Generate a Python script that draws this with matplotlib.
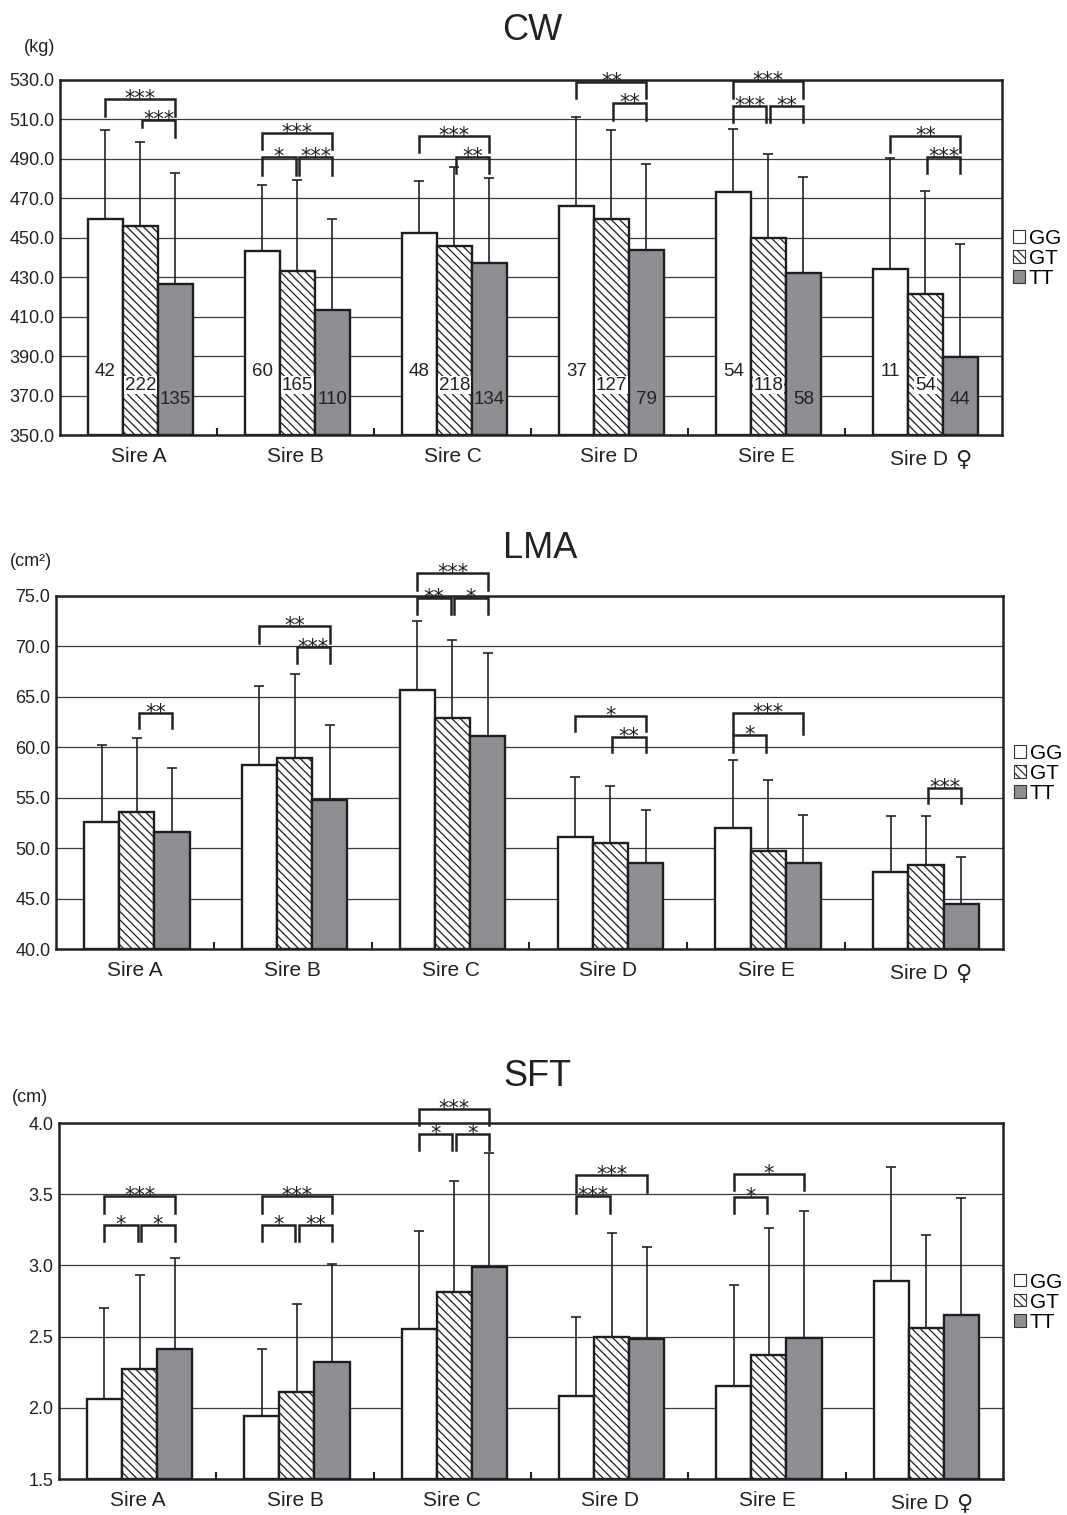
import matplotlib
matplotlib.use('Agg')
import matplotlib.pyplot as plt
from matplotlib.patches import Patch
from matplotlib.transforms import blended_transform_factory

plt.rcParams['font.family'] = ['Liberation Sans', 'DejaVu Sans']
plt.rcParams['hatch.linewidth'] = 0.9

sires = ['Sire A', 'Sire B', 'Sire C', 'Sire D', 'Sire E', 'Sire D ♀']
genotypes = ['GG', 'GT', 'TT']

# ---- CW (kg) ----
cw_gg = [459.5, 443.3, 452.4, 466.1, 473.2, 434.2]
cw_gt = [456.0, 433.2, 446.0, 459.5, 449.8, 421.5]
cw_tt = [426.6, 413.4, 437.4, 443.8, 432.0, 389.5]
cw_gg_sd = [45.1, 33.5, 26.4, 45.1, 31.9, 56.3]
cw_gt_sd = [42.5, 46.2, 40.0, 45.1, 42.6, 52.3]
cw_tt_sd = [56.2, 46.0, 42.9, 43.6, 48.8, 57.4]
n_gg = [42, 60, 48, 37, 54, 11]
n_gt = [222, 165, 218, 127, 118, 54]
n_tt = [135, 110, 134, 79, 58, 44]

# ---- LMA (cm2) ----
lma_gg = [52.6, 58.2, 65.7, 51.1, 52.0, 47.6]
lma_gt = [53.6, 58.9, 62.9, 50.5, 49.7, 48.3]
lma_tt = [51.6, 54.8, 61.1, 48.5, 48.5, 44.5]
lma_gg_sd = [7.6, 7.9, 6.8, 6.0, 6.75, 5.6]
lma_gt_sd = [7.3, 8.4, 7.7, 5.7, 7.1, 4.9]
lma_tt_sd = [6.3, 7.4, 8.2, 5.3, 4.8, 4.6]

# ---- SFT (cm) ----
sft_gg = [2.06, 1.94, 2.55, 2.08, 2.155, 2.89]
sft_gt = [2.27, 2.11, 2.81, 2.50, 2.37, 2.56]
sft_tt = [2.41, 2.32, 2.99, 2.48, 2.49, 2.65]
sft_gg_sd = [0.64, 0.47, 0.69, 0.56, 0.705, 0.80]
sft_gt_sd = [0.66, 0.62, 0.78, 0.73, 0.89, 0.65]
sft_tt_sd = [0.64, 0.69, 0.80, 0.65, 0.89, 0.825]

# significance brackets: (sire index, bar i, bar j, label, top, leg end i, leg end j)
cw_sig = [
    (0, 0, 2, '***', 520.4, 511.7, 512.0), (0, 1, 2, '***', 509.7, 506.0, 501.0),
    (1, 0, 2, '***', 503.0, 495.0, 495.0), (1, 0, 1, '*', 491.0, 482.0, 482.0),
    (1, 1, 2, '***', 491.0, 482.0, 482.0),
    (2, 0, 2, '***', 501.6, 493.5, 493.5), (2, 1, 2, '**', 491.0, 483.0, 483.0),
    (3, 0, 2, '**', 529.0, 521.0, 521.0), (3, 1, 2, '**', 518.3, 509.7, 509.7),
    (4, 0, 2, '***', 529.5, 521.0, 521.0), (4, 0, 1, '***', 516.8, 508.7, 508.7),
    (4, 1, 2, '**', 516.8, 508.7, 508.7),
    (5, 0, 2, '**', 501.6, 493.5, 493.5), (5, 1, 2, '***', 491.0, 483.0, 483.0),
]
lma_sig = [
    (0, 1, 2, '**', 63.4, 61.9, 61.9),
    (1, 0, 2, '**', 72.0, 70.3, 70.3), (1, 1, 2, '***', 69.9, 68.4, 68.4),
    (2, 0, 2, '***', 77.3, 75.6, 75.6), (2, 0, 1, '**', 74.8, 73.2, 73.2),
    (2, 1, 2, '*', 74.8, 73.2, 73.2),
    (3, 0, 2, '*', 63.1, 61.6, 61.6), (3, 1, 2, '**', 61.0, 59.5, 59.5),
    (4, 0, 2, '***', 63.4, 61.3, 61.3), (4, 0, 1, '*', 61.2, 59.5, 59.5),
    (5, 1, 2, '***', 56.0, 54.5, 54.5),
]
sft_sig = [
    (0, 0, 2, '***', 3.487, 3.37, 3.37), (0, 0, 1, '*', 3.284, 3.17, 3.17),
    (0, 1, 2, '*', 3.284, 3.17, 3.17),
    (1, 0, 2, '***', 3.487, 3.37, 3.37), (1, 0, 1, '*', 3.284, 3.17, 3.17),
    (1, 1, 2, '**', 3.284, 3.17, 3.17),
    (2, 0, 2, '***', 4.098, 3.986, 3.986), (2, 0, 1, '*', 3.923, 3.81, 3.81),
    (2, 1, 2, '*', 3.923, 3.81, 3.81),
    (3, 0, 2, '***', 3.635, 3.517, 3.517), (3, 0, 1, '***', 3.487, 3.37, 3.37),
    (4, 0, 2, '*', 3.64, 3.53, 3.53), (4, 0, 1, '*', 3.48, 3.37, 3.37),
]

W = 0.223
GRAY = '#8e8f93'
EDGE = '#1e1e1e'
TXT = '#222222'

fig = plt.figure(figsize=(10.67, 15.15), dpi=100)


def panel(rect, means, sds, ylim, yticks, sigs, counts=None, count_y=None):
    ax = fig.add_axes(rect)
    ax.set_xlim(-0.5, 5.5)
    ax.set_ylim(*ylim)
    ax.set_axisbelow(True)
    ax.yaxis.grid(True, color='#3a3a3a', lw=0.9)
    styles = [dict(facecolor='white'), dict(facecolor='white', hatch='\\\\\\\\'),
              dict(facecolor=GRAY)]
    xs_all = []
    for k in range(3):
        xs = [g + (k - 1) * W + 0.012 for g in range(6)]
        xs_all.append(xs)
        ax.bar(xs, [m - ylim[0] for m in means[k]], bottom=ylim[0], width=W,
               edgecolor=EDGE, linewidth=1.7, zorder=2, **styles[k])
        ax.errorbar(xs, means[k], yerr=[[0] * 6, sds[k]], fmt='none',
                    ecolor=TXT, elinewidth=1.2, capsize=3.8, capthick=1.2,
                    zorder=1.5)
    if counts is not None:
        for k in range(3):
            for g in range(6):
                kw = {}
                if k == 1:
                    kw['bbox'] = dict(facecolor='white', edgecolor='none', pad=0.5)
                ax.text(xs_all[k][g], count_y[k], str(counts[k][g]), ha='center',
                        va='center', fontsize=13.5, color=TXT, zorder=4, **kw)
    for (g, i, j, lab, top, li, lj) in sigs:
        x1 = xs_all[i][g]
        x2 = xs_all[j][g]
        if i == 1:
            x1 += 0.012
        if j == 1:
            x2 -= 0.012
        ax.plot([x1, x1, x2, x2], [li, top, top, lj], color=TXT, lw=1.8,
                clip_on=False, zorder=5, solid_joinstyle='miter')
        ax.annotate(lab, xy=((x1 + x2) / 2, top), xytext=(0, -4.4),
                    textcoords='offset points', ha='center', va='baseline',
                    fontsize=15, family='DejaVu Sans', color=TXT,
                    annotation_clip=False, zorder=6)
    ax.set_yticks(yticks)
    ax.set_yticklabels(['%.1f' % t for t in yticks], fontsize=13, color=TXT)
    ax.tick_params(axis='y', length=0, pad=4)
    ax.set_xticks(range(6))
    labels = list(sires[:5]) + ['']
    ax.set_xticklabels(labels, fontsize=15, color=TXT)
    ax.tick_params(axis='x', which='major', length=0, pad=9)
    # last label: "Sire D" + larger female sign
    base, sign = sires[5].split(' ♀')[0], '♀'
    tr = blended_transform_factory(ax.transData, ax.transAxes)
    ax.annotate(base, xy=(5, 0), xycoords=tr, xytext=(17.5, -10.5),
                textcoords='offset points', ha='right', va='top', fontsize=15,
                color=TXT)
    ax.annotate(sign, xy=(5, 0), xycoords=tr, xytext=(22.5, -10.0),
                textcoords='offset points', ha='left', va='top', fontsize=16,
                color=TXT, family='DejaVu Sans')
    ax.set_xticks([0.5, 1.5, 2.5, 3.5, 4.5], minor=True)
    ax.tick_params(axis='x', which='minor', direction='in', length=5, width=1.5,
                   color=TXT)
    for s in ax.spines.values():
        s.set_linewidth(1.8)
        s.set_color(TXT)
    handles = [Patch(facecolor='white', edgecolor='#333333', lw=0.8),
               Patch(facecolor='white', edgecolor='#333333', lw=0.8, hatch='\\\\\\\\'),
               Patch(facecolor=GRAY, edgecolor='#333333', lw=0.8)]
    ax.legend(handles, genotypes, loc='center left', bbox_to_anchor=(1.012, 0.497),
              frameon=False, fontsize=15, handlelength=0.55, handleheight=0.55,
              handletextpad=0.2, labelspacing=0.05, borderpad=0, borderaxespad=0)
    return ax


FW, FH = 1067.0, 1515.0


def rect(l, t, r, b):
    return [l / FW, 1 - b / FH, (r - l) / FW, (b - t) / FH]


panel(rect(60, 80, 1002, 435), [cw_gg, cw_gt, cw_tt], [cw_gg_sd, cw_gt_sd, cw_tt_sd],
      (350, 530), [350 + 20 * i for i in range(10)], cw_sig,
      counts=[n_gg, n_gt, n_tt], count_y=[382.4, 375.3, 368.2])
panel(rect(56, 596, 1003, 949), [lma_gg, lma_gt, lma_tt],
      [lma_gg_sd, lma_gt_sd, lma_tt_sd], (40, 75), [40 + 5 * i for i in range(8)], lma_sig)
panel(rect(59, 1123, 1003, 1479), [sft_gg, sft_gt, sft_tt],
      [sft_gg_sd, sft_gt_sd, sft_tt_sd], (1.5, 4.0), [1.5, 2.0, 2.5, 3.0, 3.5, 4.0], sft_sig)

fig.text(532 / FW, 1 - 31 / FH, 'CW', ha='center', va='center', fontsize=26, color=TXT)
fig.text(540 / FW, 1 - 549 / FH, 'LMA', ha='center', va='center', fontsize=26, color=TXT)
fig.text(537 / FW, 1 - 1077 / FH, 'SFT', ha='center', va='center', fontsize=26, color=TXT)
fig.text(40 / FW, 1 - 48 / FH, '(kg)', ha='center', va='center', fontsize=13, color=TXT)
fig.text(31 / FW, 1 - 562 / FH, '(cm²)', ha='center', va='center', fontsize=13, color=TXT)
fig.text(30 / FW, 1 - 1098 / FH, '(cm)', ha='center', va='center', fontsize=13, color=TXT)

fig.savefig('out.png', dpi=100)
